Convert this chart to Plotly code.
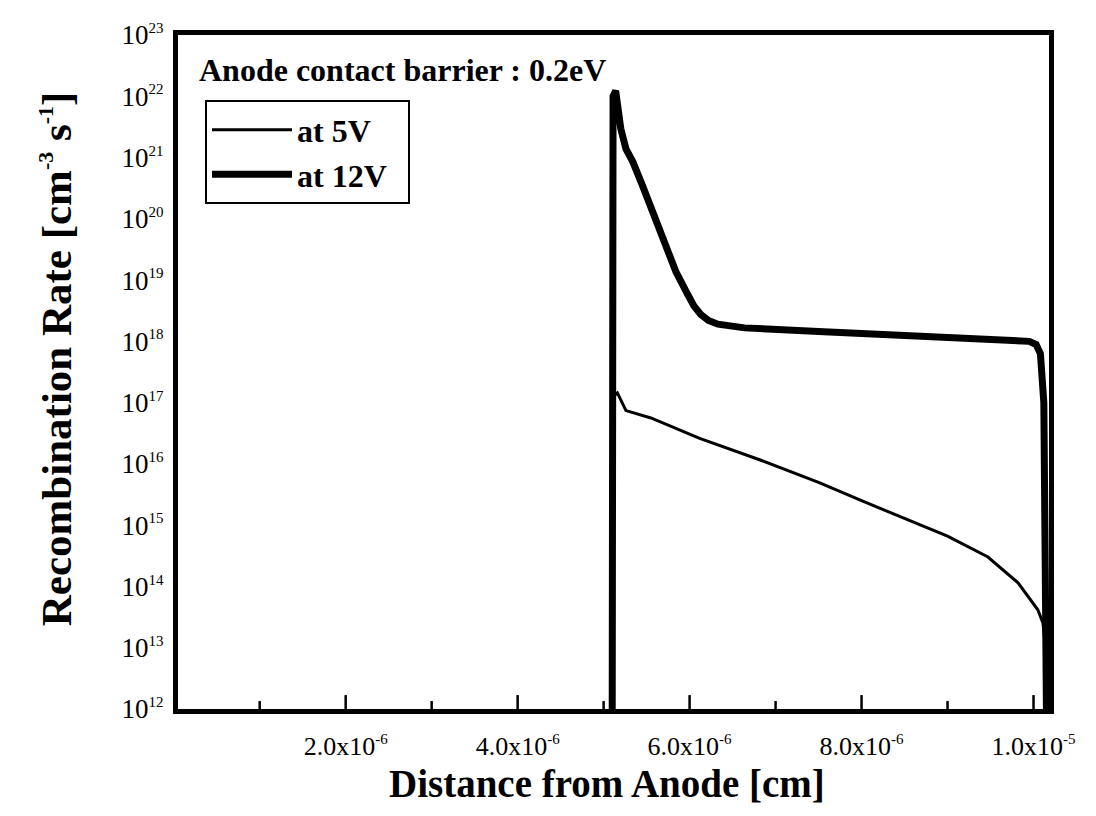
import math
import plotly.graph_objects as go

# 12 V curve (x in cm, log10 of rate in cm^-3 s^-1)
x_12v = [5.10e-6, 5.11e-6, 5.14e-6, 5.20e-6, 5.26e-6, 5.34e-6, 5.45e-6, 5.57e-6, 5.70e-6,
         5.84e-6, 5.98e-6, 6.05e-6, 6.13e-6, 6.22e-6, 6.33e-6, 6.64e-6, 7.5e-6, 8.46e-6,
         9.5e-6, 9.95e-6, 10.03e-6, 10.08e-6, 10.12e-6, 10.14e-6, 10.15e-6]
log_12v = [12.0, 22.0, 22.09, 21.47, 21.14, 20.93, 20.55, 20.12, 19.63,
           19.14, 18.76, 18.58, 18.44, 18.34, 18.28, 18.22, 18.16, 18.09,
           18.03, 18.0, 17.95, 17.8, 17.0, 15.0, 12.0]
# 5 V curve
x_5v = [5.10e-6, 5.11e-6, 5.16e-6, 5.26e-6, 5.55e-6, 6.11e-6, 6.83e-6, 7.5e-6, 8.0e-6,
        8.46e-6, 9.0e-6, 9.47e-6, 9.82e-6, 10.05e-6, 10.11e-6, 10.14e-6, 10.15e-6]
log_5v = [12.0, 17.1, 17.16, 16.87, 16.75, 16.42, 16.06, 15.7, 15.4,
          15.13, 14.82, 14.48, 14.06, 13.62, 13.4, 13.0, 12.0]

x_tickvals = [2e-6, 4e-6, 6e-6, 8e-6, 1e-5]
x_minor_tickvals = [1e-6, 3e-6, 5e-6, 7e-6, 9e-6]
x_tick_mantissa = ["2.0", "4.0", "6.0", "8.0", "1.0"]
x_tick_exponent = ["-6", "-6", "-6", "-6", "-5"]
y_exponents = list(range(12, 24))

rate_12v = [10.0 ** v for v in log_12v]
rate_5v = [10.0 ** v for v in log_5v]

FONT = "Liberation Serif"
SUP = "<sup><span style='font-size:%dpx'>%s</span></sup>"

x_ticktext = [m + "x10" + SUP % (15, e) for m, e in zip(x_tick_mantissa, x_tick_exponent)]
y_ticktext = ["10" + SUP % (15, str(e)) for e in y_exponents]
# tick positions on the log axis, in log10 units (as plotly shapes expect)
y_major_log = [float(e) for e in y_exponents]
y_minor_log = [e + math.log10(m) for e in range(12, 23) for m in range(2, 10)]

X_RANGE = [0.05e-6, 10.18e-6]
Y_RANGE = [12, 23]
PLOT_W, PLOT_H = 871.0, 678.0

fig = go.Figure()
fig.add_trace(go.Scatter(x=x_5v, y=rate_5v, mode="lines", name="at 5V",
                         line=dict(color="black", width=3)))
fig.add_trace(go.Scatter(x=x_12v, y=rate_12v, mode="lines", name="at 12V&nbsp;&nbsp;",
                         line=dict(color="black", width=7)))

# inside tick marks, placed through the axes' own scales
tick_line = dict(color="black", width=2.5)
for xv in x_tickvals:
    if xv < X_RANGE[1]:
        fig.add_shape(type="line", xref="x", yref="y domain", x0=xv, x1=xv,
                      y0=0, y1=14 / PLOT_H, line=tick_line, layer="above")
for xv in x_minor_tickvals:
    fig.add_shape(type="line", xref="x", yref="y domain", x0=xv, x1=xv,
                  y0=0, y1=8 / PLOT_H, line=tick_line, layer="above")
for yv in y_major_log:
    fig.add_shape(type="line", xref="x domain", yref="y", x0=0, x1=13 / PLOT_W,
                  y0=yv, y1=yv, line=tick_line, layer="above")
for yv in y_minor_log:
    fig.add_shape(type="line", xref="x domain", yref="y", x0=0, x1=7 / PLOT_W,
                  y0=yv, y1=yv, line=tick_line, layer="above")

fig.update_layout(
    width=1096, height=816,
    margin=dict(l=170, r=55, t=23, b=115),
    paper_bgcolor="white", plot_bgcolor="white",
    font=dict(family=FONT, color="black"),
    showlegend=True,
    legend=dict(x=0.031, y=0.903, xanchor="left", yanchor="top",
                bordercolor="black", borderwidth=2, bgcolor="white",
                font=dict(family=FONT, size=32, color="black", weight="bold"),
                itemwidth=80, tracegroupgap=0),
    annotations=[
        dict(text="<b>Anode contact barrier : 0.2eV</b>", xref="paper", yref="paper",
             x=0.0218, y=0.948, xanchor="left", yanchor="middle", showarrow=False,
             font=dict(family=FONT, size=32, color="black")),
        dict(text="<b>Distance from Anode [cm]</b>", xref="paper", yref="paper",
             x=0.4925, y=-0.111, xanchor="center", yanchor="middle", showarrow=False,
             font=dict(family=FONT, size=39, color="black")),
        dict(text="<b>Recombination Rate [cm" + SUP % (22, "-3") + " s" + SUP % (22, "-1") + "]</b>",
             xref="paper", yref="paper", textangle=-90,
             x=-0.140, y=0.519, xanchor="center", yanchor="middle", showarrow=False,
             font=dict(family=FONT, size=43, color="black")),
    ],
    xaxis=dict(
        range=X_RANGE,
        tickvals=x_tickvals, ticktext=x_ticktext, ticks="",
        showline=True, linecolor="black", linewidth=5, mirror=True,
        showgrid=False, zeroline=False, ticklabelstandoff=10,
        tickfont=dict(family=FONT, size=26, color="black"),
    ),
    yaxis=dict(
        type="log", range=Y_RANGE,
        tickvals=[10.0 ** e for e in y_exponents], ticktext=y_ticktext, ticks="",
        showline=True, linecolor="black", linewidth=5, mirror=True,
        showgrid=False, zeroline=False, ticklabelstandoff=4,
        tickfont=dict(family=FONT, size=27, color="black"),
    ),
)

fig.write_html("out.html")
